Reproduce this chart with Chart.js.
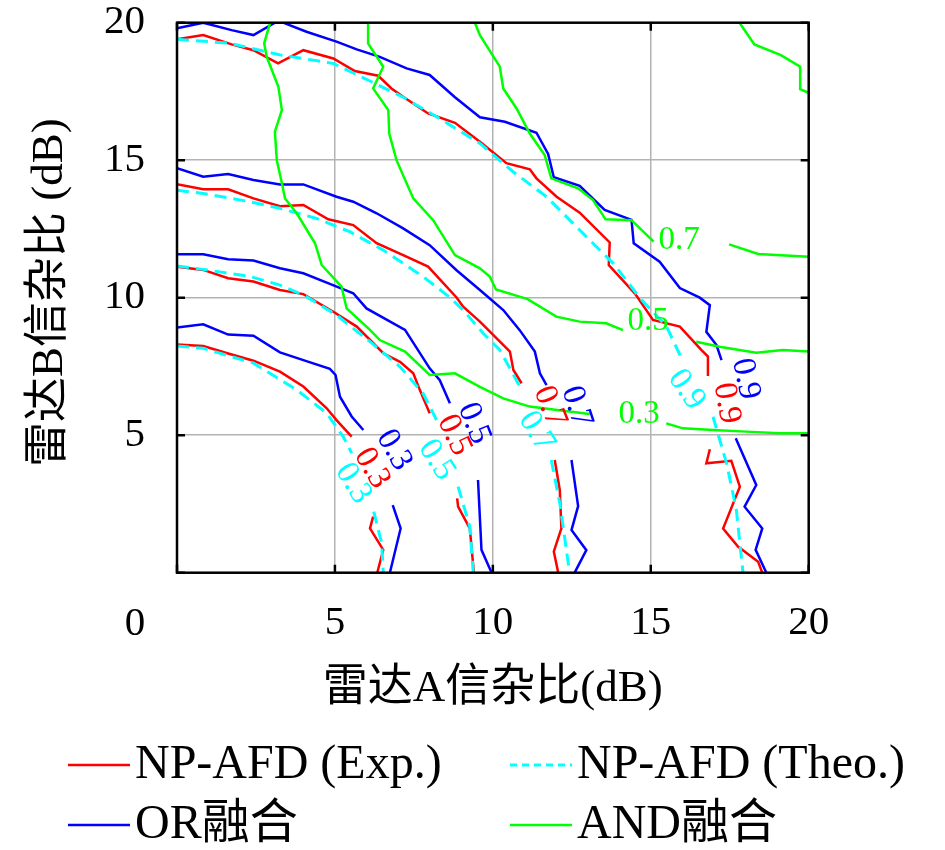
<!DOCTYPE html>
<html>
<head>
<meta charset="utf-8">
<script src="https://cdn.jsdelivr.net/npm/chart.js@4/dist/chart.umd.min.js"></script>
<style>
  html, body { margin: 0; padding: 0; background: #fff; }
</style>
</head>
<body>
<canvas id="myChart_contour" width="945" height="850"></canvas>
<script>

// axis ticks
const x_ticks = [0, 5, 10, 15, 20];
const y_ticks = [0, 5, 10, 15, 20];

// contour lines read off the picture : [雷达A SNR, 雷达B SNR]
// null = the break where MATLAB put the clabel

// NP-AFD (Exp.)
const exp_03 = [[0,8.3],[0.83,8.24],[1.62,7.97],[2.42,7.71],[3.26,7.31],[4.0,6.77],[4.74,5.98],[5.05,5.55],[5.53,4.95], null,
                [6.21,2.04],[6.11,1.61],[6.53,0.83],[6.34,0]];
const exp_05 = [[0,11.13],[0.83,11.01],[1.62,10.71],[2.42,10.59],[3.26,10.28],[4.0,10.13],[4.95,9.49],[5.69,8.95],[6.53,7.98],[7.06,7.67],[7.48,7.25],[7.69,6.64],[8.0,5.8], null,
                [8.87,2.7],[8.9,2.4],[9.27,1.61],[9.4,0]];
const exp_07 = [[0,14.13],[0.83,13.94],[1.62,13.94],[2.42,13.61],[3.26,13.33],[4.0,13.37],[4.79,12.85],[5.58,12.64],[6.32,11.98],[7.16,11.55],[7.95,11.13],[8.85,10.01],[9.06,9.67],[9.59,9.13],[10.54,8.04],[10.65,7.37],[10.91,6.89], null,
                [11.96,4.1],[12.12,3.0],[12.17,1.61],[11.93,0.77],[12.07,0]];
const exp_09 = [[0,19.4],[0.83,19.55],[1.73,19.21],[2.42,19.0],[3.2,18.52],[4.0,19.0],[4.95,18.7],[5.63,18.24],[6.37,18.07],[6.79,17.61],[7.16,17.31],[7.95,16.7],[8.8,16.36],[9.59,15.67],[10.43,14.89],[11.17,14.67],[11.38,14.34],[12.02,13.67],[12.75,13.09],[13.7,12.01],[13.67,11.19],[14.5,10.15],[15.07,9.19],[15.92,8.95],[16.6,8.1],[16.81,7.86],[16.81,7.15], null,
                [16.87,4.49],[16.76,3.98],[17.55,4.07],[17.82,3.13],[17.4,1.92],[17.29,1.61],[17.76,0.95],[18.4,0.4],[18.53,0]];

// NP-AFD (Theo.)
const theo_03 = [[0,8.24],[0.83,8.16],[2.42,7.62],[3.79,6.65],[4.74,5.8],[5.26,4.95],[5.53,4.35], null,
                 [6.23,2.22],[6.48,1.07],[6.53,0]];
const theo_05 = [[0,11.15],[0.83,11.03],[2.31,10.77],[3.26,10.46],[4.0,10.1],[5.05,9.37],[6.11,8.4],[7.06,7.49],[7.79,6.52],[8.22,5.55], null,
                 [8.9,3.13],[9.27,1.67],[9.38,0]];
const theo_07 = [[0,13.91],[0.83,13.79],[2.31,13.49],[3.26,13.25],[4.42,12.88],[5.47,12.4],[6.53,11.73],[7.8,10.76],[8.64,10.01],[9.06,9.55],[9.7,8.7],[10.22,8.1],[10.86,6.76], null,
                 [11.85,4.1],[12.12,2.52],[12.43,0]];
const theo_09 = [[0,19.4],[1.68,19.25],[3.26,18.83],[4.95,18.52],[6.11,17.88],[7.16,17.29],[8.22,16.58],[9.59,15.61],[10.64,14.58],[11.7,13.67],[12.75,12.46],[13.81,11.25],[14.65,10.0],[15.5,8.95],[16.0,7.73], null,
                 [16.97,5.67],[17.4,3.98],[17.71,2.28],[17.92,0]];

// OR融合
const or_03 = [[0,8.92],[0.83,9.03],[1.62,8.66],[2.42,8.62],[3.26,8.01],[4.0,7.73],[4.84,7.41],[5.02,7.19],[5.16,6.4],[5.53,5.68],[5.9,5.19], null,
               [6.83,2.46],[7.08,1.61],[6.74,0]];
const or_05 = [[0,11.58],[0.83,11.58],[1.62,11.4],[2.42,11.35],[3.26,11.07],[4.0,10.89],[4.84,10.5],[5.58,10.16],[6.0,9.61],[7.22,8.83],[8.0,7.43],[8.32,7.0],[8.64,6.16], null,
               [9.53,3.37],[9.64,0.83],[9.96,0]];
const or_07 = [[0,14.71],[0.83,14.4],[1.62,14.5],[2.42,14.28],[3.26,14.12],[4.0,14.12],[5.05,13.67],[5.58,13.49],[6.32,13.07],[7.16,12.52],[8.0,11.91],[8.85,11.0],[9.59,10.28],[10.33,9.55],[10.85,8.82],[11.33,8.04],[11.49,7.25],[11.7,6.82], null,
               [12.49,4.1],[12.7,2.42],[12.49,1.55],[12.96,0.82],[12.59,0]];
const or_09 = [[0,19.8],[0.83,20.0],[1.73,19.73],[2.42,19.55],[3.1,20.0],[3.36,20.0],[4.1,19.67],[5.05,19.31],[5.69,19.03],[6.42,18.76],[7.27,18.34],[8.0,18.1],[8.8,17.29],[9.59,16.56],[10.38,16.4],[11.38,16.0],[11.75,15.23],[11.93,14.38],[12.75,14.07],[13.54,13.19],[14.39,12.83],[14.46,11.98],[15.28,11.31],[15.92,10.35],[16.55,10.0],[16.87,9.73],[16.76,8.76],[17.08,8.28],[17.24,7.73], null,
               [17.69,4.89],[18.34,3.19],[17.97,2.4],[18.53,1.61],[18.32,0.83],[18.66,0]];

// AND融合
const and_03 = [[2.95,20.0],[2.76,19.25],[2.84,18.76],[3.21,17.67],[3.32,16.82],[3.1,16.04],[3.16,15.0],[3.32,14.17],[3.42,13.61],[3.79,13.07],[4.37,11.98],[4.58,11.19],[5.21,10.4],[5.37,9.61],[6.11,8.83],[6.42,8.46],[7.22,8.04],[8.0,7.19],[8.8,7.25],[9.59,6.76],[10.33,6.34],[11.17,6.04],[12.22,5.89],[13.07,5.77], null,
                [15.49,5.43],[16.02,5.25],[16.97,5.19],[18.02,5.13],[19.08,5.07],[20,5.07]];
const and_05 = [[6.05,20.0],[6.05,19.25],[6.53,18.4],[6.21,17.61],[6.69,16.82],[6.72,15.97],[6.95,15.0],[7.48,13.61],[8.11,12.82],[8.8,11.55],[9.59,11.07],[9.9,10.77],[10.1,10.3],[11.1,9.95],[12.01,9.31],[12.75,9.13],[13.59,9.07],[14.12,8.82], null,
                [16.44,8.4],[17.18,8.22],[18.34,8.0],[19.18,8.1],[20,8.04]];
const and_07 = [[9.43,20.0],[9.59,19.55],[10.22,18.4],[10.33,17.61],[10.75,16.88],[11.17,15.97],[11.64,15.19],[11.85,14.34],[12.7,13.98],[13.17,13.55],[13.57,12.85],[14.39,12.82],[15.09,12.04], null,
                [17.48,11.94],[18.4,11.59],[20,11.49]];
const and_09 = [[17.81,20.0],[18.28,19.21],[19.12,18.82],[19.73,18.4],[19.73,17.58],[20,17.45]];

// contour labels : text, x, y, angle (deg, clockwise)
const exp_labels  = [['0.3',6.17,3.8,60],['0.5',8.77,5.0,65],['0.7',11.8,6.04,68],['0.9',17.4,6.16,80]];
const theo_labels = [['0.3',5.58,3.25,58],['0.5',8.22,4.1,57],['0.7',11.38,5.13,58],['0.9',16.13,6.66,55]];
const or_labels   = [['0.3',6.87,4.46,60],['0.5',9.4,5.43,68],['0.7',12.65,6.04,72],['0.9',18.0,7.05,78]];
const and_labels  = [['0.7',15.9,12.1,0],['0.5',14.92,9.13,0],['0.3',14.63,5.77,0]];

// series style
const series = [
    { name : 'NP-AFD (Exp.)',  color : '#ff0000', dash : [],      width : 2.5, order : 4, lines : [exp_03, exp_05, exp_07, exp_09],  labels : exp_labels },
    { name : 'NP-AFD (Theo.)', color : '#00ffff', dash : [12, 7], width : 3,   order : 3, lines : [theo_03, theo_05, theo_07, theo_09], labels : theo_labels },
    { name : 'OR融合',          color : '#0000ff', dash : [],      width : 2.5, order : 2, lines : [or_03, or_05, or_07, or_09],     labels : or_labels },
    { name : 'AND融合',         color : '#00ff00', dash : [],      width : 2.5, order : 1, lines : [and_03, and_05, and_07, and_09], labels : and_labels }
];

const serif = '"Liberation Serif", "Noto Sans CJK SC", serif';

// turn [x,y] pairs into chart points, null -> gap
function to_points(line)
{
    return line.map(p => p === null ? { x : null, y : null } : { x : p[0], y : p[1] });
}

let datasets = [];
series.forEach((s) => {
    s.lines.forEach((line) => {
        datasets.push({
            label : s.name,
            data : to_points(line),
            borderColor : s.color,
            borderWidth : s.width,
            borderDash : s.dash,
            pointRadius : 0,
            fill : false,
            spanGaps : false,
            tension : 0,
            order : s.order
        });
    });
});

// black box + inward ticks like matlab
const frame_box = {
    id : 'frame_box',
    afterDraw(chart)
    {
        const ctx = chart.ctx, a = chart.chartArea;
        const xs = chart.scales.x, ys = chart.scales.y;
        ctx.save();
        ctx.strokeStyle = '#000';
        ctx.lineWidth = 2.5;
        ctx.strokeRect(a.left, a.top, a.right - a.left, a.bottom - a.top);
        ctx.beginPath();
        x_ticks.forEach((v) => {
            const px = xs.getPixelForValue(v);
            ctx.moveTo(px, a.bottom); ctx.lineTo(px, a.bottom - 8);
            ctx.moveTo(px, a.top);    ctx.lineTo(px, a.top + 8);
        });
        y_ticks.forEach((v) => {
            const py = ys.getPixelForValue(v);
            ctx.moveTo(a.left, py);  ctx.lineTo(a.left + 8, py);
            ctx.moveTo(a.right, py); ctx.lineTo(a.right - 8, py);
        });
        ctx.stroke();
        ctx.restore();
    }
};

// clabel text on the lines
const contour_text = {
    id : 'contour_text',
    afterDatasetsDraw(chart)
    {
        const ctx = chart.ctx;
        const xs = chart.scales.x, ys = chart.scales.y;
        ctx.save();
        ctx.font = '33px ' + serif;
        ctx.textAlign = 'center';
        ctx.textBaseline = 'middle';
        series.forEach((s) => {
            ctx.fillStyle = s.color;
            s.labels.forEach((l) => {
                ctx.save();
                ctx.translate(xs.getPixelForValue(l[1]), ys.getPixelForValue(l[2]));
                ctx.rotate(l[3] * Math.PI / 180);
                ctx.fillText(l[0], 0, 0);
                ctx.restore();
            });
        });
        ctx.restore();
    }
};

// axis titles, the stray "0" and the 2x2 legend under the plot
const titles_legend = {
    id : 'titles_legend',
    afterDraw(chart)
    {
        const ctx = chart.ctx, a = chart.chartArea;
        const xs = chart.scales.x;
        ctx.save();
        ctx.fillStyle = '#000';
        ctx.textBaseline = 'middle';

        // "0" of the x axis sits left of the box in the picture
        ctx.font = '41px ' + serif;
        ctx.textAlign = 'center';
        ctx.fillText('0', xs.getPixelForValue(0) - 42, a.bottom + 52);

        ctx.font = '45px ' + serif;
        ctx.fillText('雷达A信杂比(dB)', (a.left + a.right) / 2, a.bottom + 116);

        ctx.save();
        ctx.translate(50, (a.top + a.bottom) / 2 - 5);
        ctx.rotate(-Math.PI / 2);
        ctx.fillText('雷达B信杂比 (dB)', 0, 0);
        ctx.restore();

        // legend
        const col_x = [68, 510];
        const row_y = [765, 825];
        ctx.font = '48px ' + serif;
        ctx.textAlign = 'left';
        series.forEach((s, i) => {
            const lx = col_x[i % 2], ly = row_y[Math.floor(i / 2)];
            ctx.strokeStyle = s.color;
            ctx.lineWidth = s.width;
            ctx.setLineDash(s.dash.length ? [7, 5] : []);
            ctx.beginPath();
            ctx.moveTo(lx, ly);
            ctx.lineTo(lx + 62, ly);
            ctx.stroke();
            ctx.setLineDash([]);
            ctx.fillText(s.name, lx + 67, ly);
        });
        ctx.restore();
    }
};

let element = document.querySelector('#myChart_contour').getContext('2d');
let chart_output = new Chart(element, {
    type : 'line',
    data : { datasets : datasets },
    options : {
        responsive : false,
        animation : false,
        devicePixelRatio : 1,
        layout : { padding : { top : 22.7, right : 136.3, left : 0, bottom : 0 } },
        plugins : {
            legend : { display : false },
            tooltip : { enabled : false }
        },
        scales : {
            x : {
                type : 'linear',
                min : 0, max : 20,
                afterFit : (scale) => { scale.height = 277.3; scale.paddingLeft = 0; scale.paddingRight = 0; },
                ticks : {
                    stepSize : 5,
                    maxRotation : 0,
                    padding : 26,
                    color : '#000',
                    font : { family : serif, size : 41 },
                    callback : (v) => v === 0 ? '' : v
                },
                grid : { color : '#b3b3b3', lineWidth : 1.5, drawTicks : false },
                border : { display : false }
            },
            y : {
                type : 'linear',
                min : 0, max : 20,
                afterFit : (scale) => { scale.width = 177; scale.paddingTop = 0; scale.paddingBottom = 0; },
                ticks : {
                    stepSize : 5,
                    padding : 32,
                    color : '#000',
                    font : { family : serif, size : 41 },
                    callback : (v) => v === 0 ? '' : v
                },
                grid : { color : '#b3b3b3', lineWidth : 1.5, drawTicks : false },
                border : { display : false }
            }
        }
    },
    plugins : [contour_text, frame_box, titles_legend]
});
</script>
</body>
</html>
